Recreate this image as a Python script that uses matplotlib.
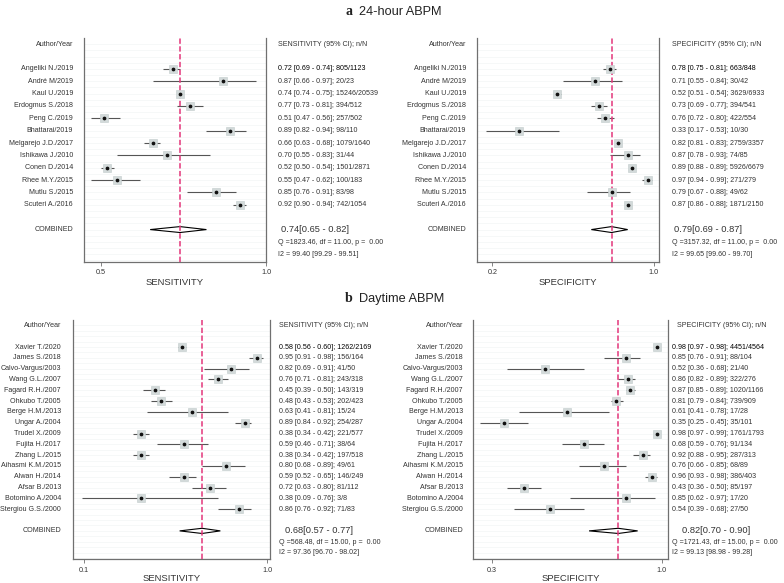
import matplotlib
matplotlib.use("Agg")
import matplotlib.pyplot as plt
import matplotlib.transforms as mtransforms
from matplotlib.patches import Polygon
import numpy as np

plt.rcParams['font.family'] = ['Liberation Sans', 'DejaVu Sans']

# ---- data: panel a (24-hour ABPM) ----
authors_a = ["Angeliki N./2019", "André M/2019", "Kaul U./2019", "Erdogmus S./2018",
             "Peng C./2019", "Bhattarai/2019", "Melgarejo J.D./2017", "Ishikawa J./2010",
             "Conen D./2014", "Rhee M.Y./2015", "Mutlu S./2015", "Scuteri A./2016"]
sens_a = [0.72, 0.87, 0.74, 0.77, 0.51, 0.89, 0.66, 0.70, 0.52, 0.55, 0.85, 0.92]
sens_a_lo = [0.69, 0.66, 0.74, 0.73, 0.47, 0.82, 0.63, 0.55, 0.50, 0.47, 0.76, 0.90]
sens_a_hi = [0.74, 0.97, 0.75, 0.81, 0.56, 0.94, 0.68, 0.83, 0.54, 0.62, 0.91, 0.94]
sens_a_nN = ["805/1123", "20/23", "15246/20539", "394/512", "257/502", "98/110",
             "1079/1640", "31/44", "1501/2871", "100/183", "83/98", "742/1054"]
spec_a = [0.78, 0.71, 0.52, 0.73, 0.76, 0.33, 0.82, 0.87, 0.89, 0.97, 0.79, 0.87]
spec_a_lo = [0.75, 0.55, 0.51, 0.69, 0.72, 0.17, 0.81, 0.78, 0.88, 0.94, 0.67, 0.86]
spec_a_hi = [0.81, 0.84, 0.54, 0.77, 0.80, 0.53, 0.83, 0.93, 0.89, 0.99, 0.88, 0.88]
spec_a_nN = ["663/848", "30/42", "3629/6933", "394/541", "422/554", "10/30",
             "2759/3357", "74/85", "5926/6679", "271/279", "49/62", "1871/2150"]
pooled_sens_a = (0.74, 0.65, 0.82)
pooled_spec_a = (0.79, 0.69, 0.87)
stats_sens_a = ("Q =1823.46, df = 11.00, p =  0.00", "I2 = 99.40 [99.29 - 99.51]")
stats_spec_a = ("Q =3157.32, df = 11.00, p =  0.00", "I2 = 99.65 [99.60 - 99.70]")

# ---- data: panel b (Daytime ABPM) ----
authors_b = ["Xavier T./2020", "James S./2018", "Calvo-Vargus/2003", "Wang G.L./2007",
             "Fagard R.H./2007", "Ohkubo T./2005", "Berge H.M./2013", "Ungar A./2004",
             "Trudel X./2009", "Fujita H./2017", "Zhang L./2015", "Aihasmi K.M./2015",
             "Alwan H./2014", "Afsar B./2013", "Botomino A./2004", "Stergiou G.S./2000"]
sens_b = [0.58, 0.95, 0.82, 0.76, 0.45, 0.48, 0.63, 0.89, 0.38, 0.59, 0.38, 0.80, 0.59, 0.72, 0.38, 0.86]
sens_b_lo = [0.56, 0.91, 0.69, 0.71, 0.39, 0.43, 0.41, 0.84, 0.34, 0.46, 0.34, 0.68, 0.52, 0.63, 0.09, 0.76]
sens_b_hi = [0.60, 0.98, 0.91, 0.81, 0.50, 0.53, 0.81, 0.92, 0.42, 0.71, 0.42, 0.89, 0.65, 0.80, 0.76, 0.92]
sens_b_nN = ["1262/2169", "156/164", "41/50", "243/318", "143/319", "202/423", "15/24", "254/287",
             "221/577", "38/64", "197/518", "49/61", "146/249", "81/112", "3/8", "71/83"]
spec_b = [0.98, 0.85, 0.52, 0.86, 0.87, 0.81, 0.61, 0.35, 0.98, 0.68, 0.92, 0.76, 0.96, 0.43, 0.85, 0.54]
spec_b_lo = [0.97, 0.76, 0.36, 0.82, 0.85, 0.79, 0.41, 0.25, 0.97, 0.59, 0.88, 0.66, 0.93, 0.36, 0.62, 0.39]
spec_b_hi = [0.98, 0.91, 0.68, 0.89, 0.89, 0.84, 0.78, 0.45, 0.99, 0.76, 0.95, 0.85, 0.98, 0.50, 0.97, 0.68]
spec_b_nN = ["4451/4564", "88/104", "21/40", "322/276", "1020/1166", "739/909", "17/28", "35/101",
             "1761/1793", "91/134", "287/313", "68/89", "386/403", "85/197", "17/20", "27/50"]
pooled_sens_b = (0.68, 0.57, 0.77)
pooled_spec_b = (0.82, 0.70, 0.90)
stats_sens_b = ("Q =568.48, df = 15.00, p =  0.00", "I2 = 97.36 [96.70 - 98.02]")
stats_spec_b = ("Q =1721.43, df = 15.00, p =  0.00", "I2 = 99.13 [98.98 - 99.28]")

W, H = 784, 583
fig = plt.figure(figsize=(W / 100, H / 100), dpi=100)

TXT = '#333333'
SPINE = '#707070'
DASH = '#e3367a'


def forest(box, authors, est, lo, hi, counts, pooled, stats, xlim, ticks, xlabel, header,
           lab_x, txt_x, hdr_x, pool_x, labelpad=1):
    x0, x1, y0, y1 = box
    ax = fig.add_axes([x0 / W, 1 - y1 / H, (x1 - x0) / W, (y1 - y0) / H])
    n = len(authors)
    rows = np.arange(n) + 2
    comb = n + 3
    ax.set_xlim(*xlim)
    ax.set_ylim(comb + 2.6, -0.5)

    # faint row lines
    for y in np.arange(0, comb + 2.6, 0.5):
        ax.axhline(y, color='#f2f5f5', lw=0.45, zorder=0)

    ax.hlines(rows, lo, hi, color='#555555', lw=0.8, zorder=2)
    p, plo, phi = pooled
    ax.add_patch(Polygon([(plo, comb), (p, comb - 0.24), (phi, comb), (p, comb + 0.24)],
                         closed=True, fc='white', ec='black', lw=0.8, zorder=3))
    ax.axvline(p, color=DASH, lw=1.1, ls=(0, (3.5, 1.6)), zorder=4)
    ax.plot(est, rows, 's', ms=5.4, mfc='#d3dada', mec='#c2cbcb', mew=0.4, zorder=5)
    ax.plot(est, rows, 'o', ms=1.7, color='#111111', zorder=6)

    ax.spines['top'].set_visible(False)
    for s in ('left', 'right', 'bottom'):
        ax.spines[s].set_color(SPINE)
        ax.spines[s].set_linewidth(0.9)
    ax.set_yticks([])
    ax.set_xticks(ticks)
    ax.set_xticklabels([f"{t:.1f}" for t in ticks])
    ax.tick_params(axis='x', length=3, width=0.6, color=SPINE, labelsize=5.2, pad=2.5,
                   labelcolor=TXT)
    ax.set_xlabel(xlabel, fontsize=6.8, color=TXT, labelpad=labelpad)

    tr = mtransforms.blended_transform_factory(fig.transFigure, ax.transData)
    ax.text(lab_x / W, 0, "Author/Year", transform=tr, ha='right', va='center',
            fontsize=5.1, color=TXT)
    ax.text(hdr_x / W, 0, header, transform=tr, ha='left', va='center',
            fontsize=5.1, color=TXT)
    for i, r in enumerate(rows):
        col = 'black' if i == 0 else TXT
        ax.text(lab_x / W, r, authors[i], transform=tr, ha='right', va='center',
                fontsize=5.1, color=TXT)
        ax.text(txt_x / W, r, f"{est[i]:.2f} [{lo[i]:.2f} - {hi[i]:.2f}]; {counts[i]}",
                transform=tr, ha='left', va='center', fontsize=5.1, color=col)
    ax.text(lab_x / W, comb, "COMBINED", transform=tr, ha='right', va='center',
            fontsize=5.1, color=TXT)
    ax.text(pool_x / W, comb, f"{p:.2f}[{plo:.2f} - {phi:.2f}]", transform=tr,
            ha='left', va='center', fontsize=6.7, color=TXT)
    ax.text(txt_x / W, comb + 1.05, stats[0], transform=tr, ha='left', va='center',
            fontsize=5.1, color=TXT)
    ax.text(txt_x / W, comb + 2.0, stats[1], transform=tr, ha='left', va='center',
            fontsize=5.1, color=TXT)
    return ax


def panel_title(letter, title, y):
    fig.text(345 / W, 1 - y / H, letter, ha='left', va='baseline', fontsize=10,
             family='Liberation Serif', fontweight='bold', color='#222222')
    fig.text(359 / W, 1 - y / H, title, ha='left', va='baseline', fontsize=9.2, color='#222222')


panel_title("a", "24-hour ABPM", 15)
forest((84, 266, 38, 261.7), authors_a, sens_a, sens_a_lo, sens_a_hi, sens_a_nN,
       pooled_sens_a, stats_sens_a, (0.45, 1.0), [0.5, 1.0], "SENSITIVITY",
       "SENSITIVITY (95% CI); n/N", 73, 278, 278, 281)
forest((477, 659, 38, 261.7), authors_a, spec_a, spec_a_lo, spec_a_hi, spec_a_nN,
       pooled_spec_a, stats_spec_a, (0.124, 1.025), [0.2, 1.0], "SPECIFICITY",
       "SPECIFICITY (95% CI); n/N", 466, 672, 672, 674)

panel_title("b", "Daytime ABPM", 302)
forest((73, 270, 320, 559), authors_b, sens_b, sens_b_lo, sens_b_hi, sens_b_nN,
       pooled_sens_b, stats_sens_b, (0.046, 1.014), [0.1, 1.0], "SENSITIVITY",
       "SENSITIVITY (95% CI); n/N", 61, 279, 279, 285, labelpad=0)
forest((473, 668, 320, 559), authors_b, spec_b, spec_b_lo, spec_b_hi, spec_b_nN,
       pooled_spec_b, stats_spec_b, (0.222, 1.025), [0.3, 1.0], "SPECIFICITY",
       "SPECIFICITY (95% CI); n/N", 463, 672, 677, 682, labelpad=0)

fig.savefig("out.png", dpi=100, facecolor='white')
